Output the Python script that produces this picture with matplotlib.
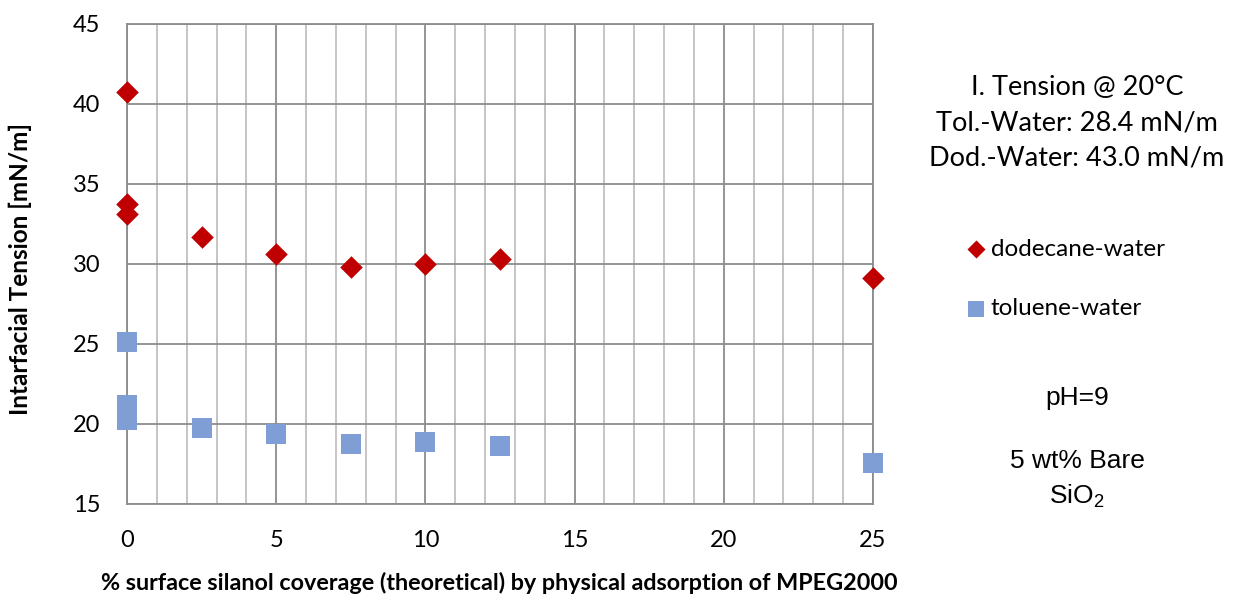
import matplotlib.pyplot as plt
from matplotlib.ticker import MultipleLocator

plt.rcParams['mathtext.fontset'] = 'custom'
plt.rcParams['mathtext.rm'] = 'Liberation Sans'

# data
dod_x = [0, 0, 0, 2.5, 5, 7.5, 10, 12.5, 25]
dod_y = [40.75, 33.75, 33.1, 31.7, 30.6, 29.8, 30.0, 30.3, 29.15]
tol_x = [0, 0, 0, 2.5, 5, 7.5, 10, 12.5, 25]
tol_y = [25.1, 21.2, 20.25, 19.75, 19.35, 18.75, 18.9, 18.6, 17.55]

x_ticks = [0, 5, 10, 15, 20, 25]
y_ticks = [15, 20, 25, 30, 35, 40, 45]

fig = plt.figure(figsize=(12.35, 5.96), dpi=100)
ax = fig.add_axes([127/1235, 1-504/596, (873-127)/1235, (504-24)/596])

ax.set_xlim(0, 25)
ax.set_ylim(15, 45)
ax.set_xticks(x_ticks)
ax.set_yticks(y_ticks)
ax.xaxis.set_minor_locator(MultipleLocator(1))
ax.grid(which='major', color='#8c8c8c', linewidth=1.3)
ax.grid(which='minor', axis='x', color='#c0c0c0', linewidth=1.3)
ax.set_axisbelow(True)
for s in ax.spines.values():
    s.set_color('#8c8c8c')
    s.set_linewidth(1.3)
ax.tick_params(which='both', length=0, labelsize=17)
ax.tick_params(axis='x', pad=19)
ax.tick_params(axis='y', pad=19)
for lab in ax.get_xticklabels() + ax.get_yticklabels():
    lab.set_fontfamily('Lato')

ax.scatter(dod_x, dod_y, marker='D', s=11.5**2, color='#c00000',
           label='dodecane-water', zorder=3, clip_on=False, linewidths=0)
ax.scatter(tol_x, tol_y, marker='s', s=14**2, color='#7f9ed6',
           label='toluene-water', zorder=3, clip_on=False, linewidths=0)

fig.text(499/1235, 1-583/596,
         '% surface silanol coverage (theoretical) by physical adsorption of MPEG2000',
         ha='center', va='center', fontsize=16.8, fontweight='bold', family='Lato')
fig.text(20/1235, 1-269/596, 'Intarfacial Tension [mN/m]', rotation=90,
         ha='center', va='center', fontsize=17.5, fontweight='bold', family='Lato')

leg = fig.legend(loc='center left', bbox_to_anchor=(942/1235, 1-279/596), frameon=False,
                 prop={'family': 'Lato', 'size': 17.5},
                 handletextpad=0.1, labelspacing=1.6, handlelength=1.0,
                 markerscale=0.8)

fig.text(1077/1235, 1-87/596, 'I. Tension @ 20\u00b0C', ha='center', va='center',
         fontsize=19.5, family='Lato')
fig.text(1077/1235, 1-123/596, 'Tol.-Water: 28.4 mN/m', ha='center', va='center',
         fontsize=19.5, family='Lato')
fig.text(1077/1235, 1-158/596, 'Dod.-Water: 43.0 mN/m', ha='center', va='center',
         fontsize=19.5, family='Lato')
fig.text(1077/1235, 1-398/596, 'pH=9', ha='center', va='center',
         fontsize=19, family='Liberation Sans')
fig.text(1077/1235, 1-461/596, '5 wt% Bare', ha='center', va='center',
         fontsize=19, family='Liberation Sans')
fig.text(1077/1235, 1-496/596, 'SiO$_2$', ha='center', va='center',
         fontsize=19, family='Liberation Sans')

fig.savefig('out.png', dpi=100)
